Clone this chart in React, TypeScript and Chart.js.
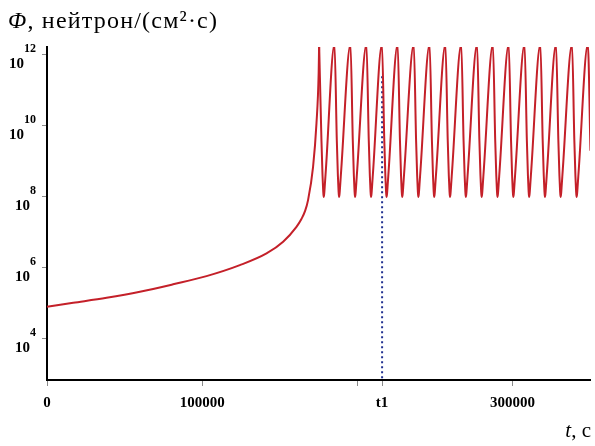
import React, { useEffect, useRef } from 'react';
import { Chart, registerables } from 'chart.js';

Chart.register(...registerables);

// ---- axis ranges & ticks ----
const xMax = 350000;
const yMinExp = 2.845;
const yMaxExp = 12.225;
const yTickExps = [4, 6, 8, 10, 12];
const xTickValues = [0, 100000, 200000, 216000, 300000];
const xTickLabels = ['0', '100000', '', 't1', '300000'];

// ---- marker line t1 ----
const t1 = 216000;
const t1LineTopExp = 11.4;

// ---- growth phase (time, log10 Φ) ----
const growthTimes = [0, 16900, 38400, 59900, 81300, 102800, 124300, 141500, 152200, 160800, 164000, 166300, 168300, 171500, 173700, 175100, 175400];
const growthLog = [4.91, 5.02, 5.16, 5.33, 5.54, 5.77, 6.08, 6.41, 6.74, 7.16, 7.38, 7.6, 7.92, 8.85, 10.08, 11.49, 12.3];

// ---- pulsed phase ----
const peakTimes = [175400, 185300, 195600, 205900, 215900, 226000, 236400, 246600, 256800, 267000, 277200, 287400, 297600, 307800, 318000, 328100, 338400, 348600];
const peakLog = 12.3;
// one pulse shape read after a peak: offsets (s) and log10 Φ
const pulseDt = [1500, 2200, 2600, 2900, 3250, 3700, 4400];
const pulseLog = [9.6, 8.6, 8.2, 8.0, 8.08, 8.35, 8.8];
const endTime = 350300;
const endLog = 9.3;

const SERIF = '"Liberation Serif", "Times New Roman", serif';

function buildPulsePoints() {
  const pts: { x: number; y: number }[] = [];
  peakTimes.forEach((p, i) => {
    pts.push({ x: p, y: Math.pow(10, peakLog) });
    if (i < peakTimes.length - 1) {
      pulseDt.forEach((dt, j) => pts.push({ x: p + dt, y: Math.pow(10, pulseLog[j]) }));
    }
  });
  pts.push({ x: endTime, y: Math.pow(10, endLog) });
  return pts;
}

const textPlugin = {
  id: 'textPlugin',
  afterDraw(chart: any) {
    const ctx = chart.ctx;
    const y = chart.scales.y;
    ctx.save();
    ctx.fillStyle = '#000';
    ctx.textAlign = 'left';
    ctx.textBaseline = 'alphabetic';
    // title
    (ctx as any).letterSpacing = '1.2px';
    ctx.font = `italic 24px ${SERIF}`;
    ctx.fillText('Φ', 8, 28);
    const w = ctx.measureText('Φ').width;
    ctx.font = `24px ${SERIF}`;
    ctx.fillText(', нейтрон/(см²·с)', 8 + w, 28);
    (ctx as any).letterSpacing = '0px';
    // x axis title
    ctx.font = `21px ${SERIF}`;
    const rest = ', с';
    const rw = ctx.measureText(rest).width;
    ctx.font = `italic 21px ${SERIF}`;
    const tw = ctx.measureText('t').width;
    const xr = 591;
    ctx.fillText('t', xr - rw - tw, 437);
    ctx.font = `21px ${SERIF}`;
    ctx.fillText(rest, xr - rw, 437);
    // y tick labels 10^n
    yTickExps.forEach((e) => {
      const py = y.getPixelForValue(Math.pow(10, e));
      ctx.font = `bold 12px ${SERIF}`;
      const es = String(e);
      const ew = ctx.measureText(es).width;
      ctx.textAlign = 'right';
      ctx.fillText(es, 36, py - 3);
      ctx.font = `bold 15px ${SERIF}`;
      ctx.fillText('10', 36 - ew, py + 13);
    });
    ctx.restore();
  },
};

export default function App() {
  const ref = useRef<HTMLCanvasElement | null>(null);
  useEffect(() => {
    if (!ref.current) return;
    const chart = new Chart(ref.current, {
      type: 'line',
      data: {
        datasets: [
          {
            data: growthTimes.map((t, i) => ({ x: t, y: Math.pow(10, growthLog[i]) })),
            borderColor: '#c42029',
            borderWidth: 2,
            pointRadius: 0,
            cubicInterpolationMode: 'monotone',
            clip: { left: 5, right: 0, top: 0, bottom: 5 } as any,
          },
          {
            data: buildPulsePoints(),
            borderColor: '#c42029',
            borderWidth: 2,
            pointRadius: 0,
            cubicInterpolationMode: 'monotone',
            clip: { left: 5, right: 0, top: 0, bottom: 5 } as any,
          },
          {
            data: [
              { x: t1, y: Math.pow(10, t1LineTopExp) },
              { x: t1, y: Math.pow(10, yMinExp) },
            ],
            borderColor: '#1f2f8f',
            borderWidth: 2,
            borderDash: [2, 3],
            pointRadius: 0,
          },
        ],
      },
      options: {
        animation: false,
        responsive: false,
        devicePixelRatio: 1,
        layout: { padding: { top: 47, right: 5, left: 0, bottom: 0 } },
        plugins: { legend: { display: false }, tooltip: { enabled: false }, title: { display: false } },
        scales: {
          x: {
            type: 'linear',
            min: 0,
            max: xMax,
            afterBuildTicks: (s: any) => {
              s.ticks = xTickValues.map((v) => ({ value: v }));
            },
            afterFit: (s: any) => {
              s.height = 66;
            },
            ticks: {
              autoSkip: false,
              maxRotation: 0,
              padding: 8,
              color: '#000',
              font: { family: SERIF, size: 15, weight: 'bold' },
              callback: (v: any) => {
                const i = xTickValues.indexOf(Number(v));
                return i >= 0 ? xTickLabels[i] : '';
              },
            },
            grid: { display: true, drawOnChartArea: false, drawTicks: true, tickLength: 6, color: '#8a8a8a', lineWidth: 1 },
            border: { display: true, color: '#000', width: 2 },
          },
          y: {
            type: 'logarithmic',
            min: Math.pow(10, yMinExp),
            max: Math.pow(10, yMaxExp),
            afterBuildTicks: (s: any) => {
              s.ticks = yTickExps.map((e) => ({ value: Math.pow(10, e) }));
            },
            afterFit: (s: any) => {
              s.width = 47;
            },
            ticks: { display: false },
            grid: { display: true, drawOnChartArea: false, drawTicks: true, tickLength: 5, color: '#8a8a8a', lineWidth: 1 },
            border: { display: true, color: '#000', width: 2 },
          },
        },
      } as any,
      plugins: [textPlugin],
    });
    return () => chart.destroy();
  }, []);
  return (
    <div style={{ position: 'absolute', left: 0, top: 0, width: 595, height: 446, background: '#fff' }}>
      <canvas ref={ref} width={595} height={446} style={{ display: 'block' }} />
    </div>
  );
}
